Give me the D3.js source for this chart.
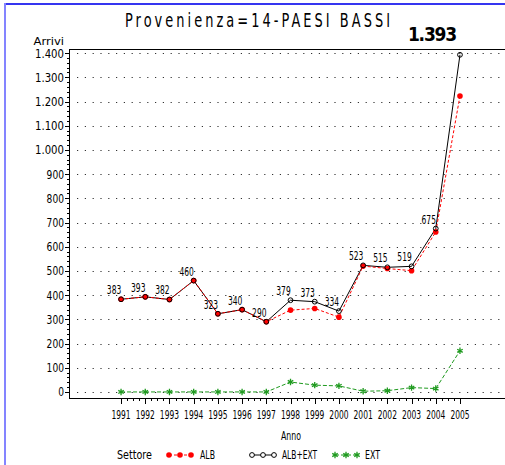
<!DOCTYPE html>
<html>
<head>
<meta charset="utf-8">
<script src="https://cdn.jsdelivr.net/npm/d3@7/dist/d3.min.js"></script>
<style>
  html, body { margin: 0; padding: 0; background: #fff; }
  svg { display: block; }
  text { font-family: "DejaVu Sans Condensed", "DejaVu Sans", sans-serif; fill: #000; }
</style>
</head>
<body>
<div id="chart"></div>
<script>
// Values
const years = [1991, 1992, 1993, 1994, 1995, 1996, 1997, 1998, 1999, 2000, 2001, 2002, 2003, 2004, 2005];
const alb = [383, 393, 382, 460, 323, 340, 290, 338, 345, 309, 520, 510, 501, 661, 1223];
const albExt = [383, 393, 382, 460, 323, 340, 290, 379, 373, 334, 523, 515, 519, 675, 1393];
const ext = [0, 0, 0, 0, 0, 0, 0, 41, 28, 25, 3, 5, 18, 14, 170];
const yTicks = [0, 100, 200, 300, 400, 500, 600, 700, 800, 900, 1000, 1100, 1200, 1300, 1400];

const width = 505;
const height = 465;
const plot = { left: 69, right: 505, top: 49, bottom: 398 };

const svg = d3.select("#chart").append("svg")
  .attr("width", width)
  .attr("height", height);

// squeeze text horizontally to the narrow SAS look (scale, so the box shrinks too)
function squeeze(sel, perChar) {
  sel.each(function () {
    const node = d3.select(this);
    const tx = +node.attr("x");
    const ty = +node.attr("y");
    const natural = this.getComputedTextLength();
    const k = natural > 0 ? (node.text().length * perChar) / natural : 1;
    node.attr("x", 0).attr("y", 0)
      .attr("transform", `translate(${tx},${ty}) scale(${k},1)`);
  });
  return sel;
}

// ── Page border ──
svg.append("line")
  .attr("x1", 5).attr("y1", 4).attr("x2", width).attr("y2", 4)
  .attr("stroke", "#3535f0").attr("stroke-width", 2);
svg.append("line")
  .attr("x1", 5).attr("y1", 3).attr("x2", 5).attr("y2", height)
  .attr("stroke", "#8484ff").attr("stroke-width", 2);

// ── Scales ──
const x = d3.scaleLinear()
  .domain([1988.85, 2006.86])
  .range([plot.left, plot.right]);

const y = d3.scaleLinear()
  .domain([-25, 1417])
  .range([plot.bottom, plot.top]);

const fmt = (v) => d3.format(",")(v).replace(/,/g, ".");

// ── Title: narrow glyphs, wide spacing ──
const titleScale = 0.72;
svg.append("text")
  .attr("transform", `translate(125,27) scale(${titleScale},1)`)
  .attr("font-size", "20px")
  .attr("font-weight", "300")
  .attr("textLength", 265 / titleScale)
  .attr("lengthAdjust", "spacing")
  .text("Provenienza=14-PAESI BASSI");

// ── Gridlines ──
svg.append("g")
  .selectAll("line")
  .data(yTicks)
  .join("line")
  .attr("x1", 77)
  .attr("x2", plot.right)
  .attr("y1", (d) => Math.round(y(d)) + 0.5)
  .attr("y2", (d) => Math.round(y(d)) + 0.5)
  .attr("stroke", "#333")
  .attr("stroke-width", 1.2)
  .attr("stroke-dasharray", "1.2 6.6");

// ── Frame ──
svg.append("line")
  .attr("x1", plot.left).attr("x2", plot.right)
  .attr("y1", plot.top + 0.5).attr("y2", plot.top + 0.5)
  .attr("stroke", "#000");
svg.append("line")
  .attr("x1", plot.left).attr("x2", plot.right)
  .attr("y1", plot.bottom + 0.5).attr("y2", plot.bottom + 0.5)
  .attr("stroke", "#000");
svg.append("line")
  .attr("x1", plot.left + 0.5).attr("x2", plot.left + 0.5)
  .attr("y1", plot.top).attr("y2", plot.bottom)
  .attr("stroke", "#000");

// ── Y axis ticks ──
const yMinor = d3.range(0, 1401, 20).filter((v) => v % 100 !== 0);
svg.append("g")
  .selectAll("line")
  .data(yMinor)
  .join("line")
  .attr("x1", plot.left - 2).attr("x2", plot.left)
  .attr("y1", (d) => Math.round(y(d)) + 0.5)
  .attr("y2", (d) => Math.round(y(d)) + 0.5)
  .attr("stroke", "#000");
svg.append("g")
  .selectAll("line")
  .data(yTicks)
  .join("line")
  .attr("x1", plot.left - 4).attr("x2", plot.left)
  .attr("y1", (d) => Math.round(y(d)) + 0.5)
  .attr("y2", (d) => Math.round(y(d)) + 0.5)
  .attr("stroke", "#000");
squeeze(svg.append("g")
  .selectAll("text")
  .data(yTicks)
  .join("text")
  .attr("x", 64)
  .attr("y", (d) => y(d) + 4.5)
  .attr("text-anchor", "end")
  .attr("font-size", "12px")
  .text((d) => fmt(d)), 5.8);

squeeze(svg.append("text")
  .attr("x", 64)
  .attr("y", 45)
  .attr("text-anchor", "end")
  .attr("font-size", "10px")
  .text("Arrivi"), 5.1);

// ── X axis ticks ──
const xMinor = d3.range(years[0], years[years.length - 1], 0.25).filter((v) => v % 1 !== 0);
svg.append("g")
  .selectAll("line")
  .data(xMinor)
  .join("line")
  .attr("x1", (d) => Math.round(x(d)) + 0.5)
  .attr("x2", (d) => Math.round(x(d)) + 0.5)
  .attr("y1", plot.bottom).attr("y2", plot.bottom + 3)
  .attr("stroke", "#000");
svg.append("g")
  .selectAll("line")
  .data(years)
  .join("line")
  .attr("x1", (d) => Math.round(x(d)) + 0.5)
  .attr("x2", (d) => Math.round(x(d)) + 0.5)
  .attr("y1", plot.bottom).attr("y2", plot.bottom + 6)
  .attr("stroke", "#000");
squeeze(svg.append("g")
  .selectAll("text")
  .data(years)
  .join("text")
  .attr("x", (d) => x(d))
  .attr("y", 419)
  .attr("text-anchor", "middle")
  .attr("font-size", "12px")
  .text((d) => d), 4.8);

squeeze(svg.append("text")
  .attr("x", 281)
  .attr("y", 440)
  .attr("font-size", "12px")
  .text("Anno"), 5);

// ── Lines ──
const pts = (vals) => years.map((yr, i) => [yr, vals[i]]);
const line = d3.line().x((d) => x(d[0])).y((d) => y(d[1]));

svg.append("path")
  .attr("d", line(pts(ext)))
  .attr("fill", "none")
  .attr("stroke", "#1f9a1f")
  .attr("stroke-width", 1)
  .attr("stroke-dasharray", "4 2");

svg.append("path")
  .attr("d", line(pts(albExt)))
  .attr("fill", "none")
  .attr("stroke", "#000")
  .attr("stroke-width", 1);

svg.append("path")
  .attr("d", line(pts(alb)))
  .attr("fill", "none")
  .attr("stroke", "#ff0000")
  .attr("stroke-width", 1)
  .attr("stroke-dasharray", "3 2");

// ── Markers ──
const star = d3.symbol().type(d3.symbolAsterisk).size(28);

svg.append("g")
  .selectAll("path")
  .data(pts(ext))
  .join("path")
  .attr("transform", (d) => `translate(${x(d[0])},${y(d[1])})`)
  .attr("d", star)
  .attr("fill", "none")
  .attr("stroke", "#1f9a1f")
  .attr("stroke-width", 1.3);

svg.append("g")
  .selectAll("circle")
  .data(pts(alb))
  .join("circle")
  .attr("cx", (d) => x(d[0]))
  .attr("cy", (d) => y(d[1]))
  .attr("r", 2.8)
  .attr("fill", "#ff0000");

svg.append("g")
  .selectAll("circle")
  .data(pts(albExt))
  .join("circle")
  .attr("cx", (d) => x(d[0]))
  .attr("cy", (d) => y(d[1]))
  .attr("r", 2.4)
  .attr("fill", "none")
  .attr("stroke", "#000")
  .attr("stroke-width", 1);

// ── Point labels ──
const labelled = pts(albExt);
squeeze(svg.append("g")
  .selectAll("text")
  .data(labelled.slice(0, -1))
  .join("text")
  .attr("x", (d) => x(d[0]) - 7)
  .attr("y", (d) => y(d[1]) - 5)
  .attr("text-anchor", "middle")
  .attr("font-size", "12px")
  .text((d) => d[1]), 4.8);

const last = labelled[labelled.length - 1];
svg.append("text")
  .attr("x", x(last[0]) - 28)
  .attr("y", y(last[1]) - 14)
  .attr("text-anchor", "middle")
  .attr("font-family", "Liberation Sans, Arial, sans-serif")
  .attr("font-weight", "bold")
  .attr("font-size", "19px")
  .attr("letter-spacing", "-1.2px")
  .text(fmt(last[1]));

// ── Legend ──
const legendY = 455;
squeeze(svg.append("text")
  .attr("x", 117)
  .attr("y", 459)
  .attr("font-size", "12px")
  .text("Settore"), 5);

const legendItems = [
  { label: "ALB", color: "#ff0000", kind: "dot", x0: 169, tx: 200, dash: "3 2" },
  { label: "ALB+EXT", color: "#000", kind: "ring", x0: 252, tx: 282, dash: null },
  { label: "EXT", color: "#1f9a1f", kind: "star", x0: 335, tx: 365, dash: "4 2" },
];

legendItems.forEach((item) => {
  const g = svg.append("g");
  g.append("line")
    .attr("x1", item.x0).attr("x2", item.x0 + 22)
    .attr("y1", legendY).attr("y2", legendY)
    .attr("stroke", item.color)
    .attr("stroke-dasharray", item.dash);
  [0, 11, 22].forEach((dx) => {
    if (item.kind === "dot") {
      g.append("circle").attr("cx", item.x0 + dx).attr("cy", legendY).attr("r", 2.8).attr("fill", item.color);
    } else if (item.kind === "ring") {
      g.append("circle").attr("cx", item.x0 + dx).attr("cy", legendY).attr("r", 2.4)
        .attr("fill", "#fff").attr("stroke", item.color);
    } else {
      g.append("path").attr("transform", `translate(${item.x0 + dx},${legendY})`)
        .attr("d", star).attr("fill", "none").attr("stroke", item.color).attr("stroke-width", 1.3);
    }
  });
  squeeze(g.append("text")
    .attr("x", item.tx)
    .attr("y", 459)
    .attr("font-size", "12px")
    .text(item.label), 5);
});
</script>
</body>
</html>
